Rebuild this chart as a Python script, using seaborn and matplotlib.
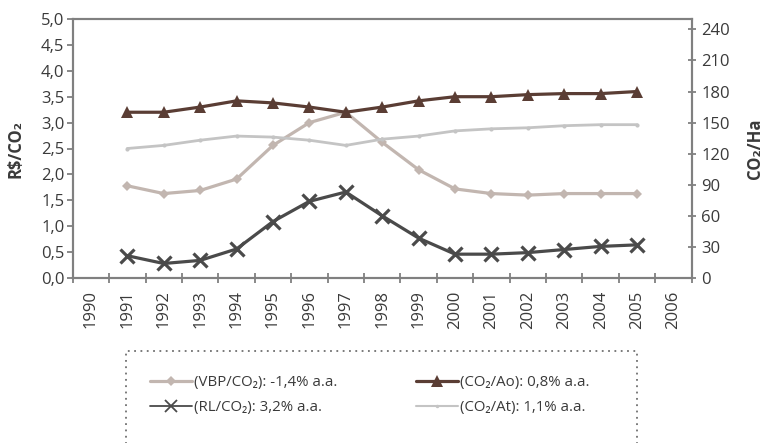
import numpy as np
import pandas as pd
import matplotlib
matplotlib.use("Agg")
from matplotlib import pyplot as plt
from matplotlib.patches import Rectangle
from matplotlib.lines import Line2D
from matplotlib.ticker import FixedLocator, FuncFormatter
import seaborn as sns

years = list(range(1991, 2006))
all_years = list(range(1990, 2007))

# left axis, R$/CO2
vbp_co2 = [1.78, 1.63, 1.69, 1.91, 2.56, 3.00, 3.20, 2.62, 2.09, 1.72, 1.63, 1.60, 1.63, 1.63, 1.63]
rl_co2 = [0.43, 0.28, 0.34, 0.56, 1.09, 1.48, 1.66, 1.20, 0.77, 0.46, 0.46, 0.49, 0.55, 0.61, 0.64]

# right axis, CO2/Ha
co2_ao = [160, 160, 165, 171, 169, 165, 160, 165, 171, 175, 175, 177, 178, 178, 180]
co2_at = [125, 128, 133, 137, 136, 133, 128, 134, 137, 142, 144, 145, 147, 148, 148]

labels = ["(VBP/CO₂): -1,4% a.a.", "(RL/CO₂): 3,2% a.a.",
          "(CO₂/Ao): 0,8% a.a.", "(CO₂/At): 1,1% a.a."]

sns.set_style("white")
plt.rcParams['font.family'] = ['Open Sans', 'DejaVu Sans']
plt.rcParams['font.size'] = 12

c_vbp = "#c2b6b0"
c_rl = "#4a4a4a"
c_ao = "#5a3d34"
c_at = "#c4c4c4"
c_axis = "#808080"
c_text = "#3a3a3a"

df = pd.DataFrame({"ano": years, "vbp": vbp_co2, "rl": rl_co2,
                   "ao": co2_ao, "at": co2_at})

fig = plt.figure(figsize=(7.63, 4.43), dpi=100)
ax = fig.add_axes([72.7 / 763, 1 - 278 / 443, (691.7 - 72.7) / 763, (278 - 19) / 443])
ax2 = ax.twinx()

sns.lineplot(data=df, x="ano", y="vbp", ax=ax, color=c_vbp, lw=2.3,
             marker="D", markersize=5, markeredgewidth=0)
sns.lineplot(data=df, x="ano", y="rl", ax=ax, color=c_rl, lw=2.3,
             marker="x", markersize=10, markeredgewidth=2.3, markeredgecolor=c_rl)
sns.lineplot(data=df, x="ano", y="ao", ax=ax2, color=c_ao, lw=2.3,
             marker="^", markersize=8, markeredgewidth=0)
sns.lineplot(data=df, x="ano", y="at", ax=ax2, color=c_at, lw=2.0,
             marker="o", markersize=3, markeredgewidth=0)

ax.set_xlim(1989.5, 2006.5)
ax.set_ylim(0, 5)
ax2.set_ylim(0, 250)

ax.xaxis.set_major_locator(FixedLocator(all_years))
ax.set_xticklabels([str(y) for y in all_years], rotation=90)
ax.xaxis.set_minor_locator(FixedLocator(np.arange(1989.5, 2007, 1.0)))
ax.tick_params(axis="x", which="major", length=0, pad=9, labelcolor=c_text)
ax.tick_params(axis="x", which="minor", bottom=True, direction="inout",
               length=7.5, width=1.3, color=c_axis)

ax.set_yticks(np.arange(0, 5.01, 0.5))
ax.yaxis.set_major_formatter(FuncFormatter(lambda v, p: f"{v:.1f}".replace(".", ",")))
ax.tick_params(axis="y", left=True, direction="out", length=4, width=1.3,
               color=c_axis, labelcolor=c_text, pad=2)

ax2.set_yticks(range(0, 241, 30))
ax2.tick_params(axis="y", right=True, direction="inout", length=6, width=1.3,
                color=c_axis, labelcolor=c_text, pad=4)

for a in (ax, ax2):
    for s in a.spines.values():
        s.set_color(c_axis)
        s.set_linewidth(1.5)

ax.set_xlabel("")
ax.set_ylabel("R$/CO₂", fontweight="bold", fontsize=12, color=c_text)
ax2.set_ylabel("CO₂/Ha", fontweight="bold", fontsize=12, color=c_text, rotation=90)
ax.yaxis.set_label_coords((24 - 72.7) / 619, 0.5)
ax2.yaxis.set_label_coords((746 - 72.7) / 619, 0.5)

# legend box (dotted, cut by the figure bottom)
fig.patches.append(Rectangle((126 / 763, -0.05), (637 - 126) / 763, 0.05 + 1 - 351 / 443,
                             transform=fig.transFigure, fill=False, ls=(0, (1, 2.5)),
                             lw=1.3, ec="#707070"))

h_vbp = Line2D([], [], color=c_vbp, lw=2.3, marker="D", markersize=5, markeredgewidth=0)
h_rl = Line2D([], [], color=c_rl, lw=1.3, marker="x", markersize=9, markeredgewidth=1.3)
h_ao = Line2D([], [], color=c_ao, lw=2.3, marker="^", markersize=8, markeredgewidth=0)
h_at = Line2D([], [], color=c_at, lw=1.5, marker="o", markersize=2.5, markeredgewidth=0)

leg_kw = dict(loc="upper left", frameon=False, handlelength=2.8, handletextpad=0.15,
              labelspacing=0.65, fontsize=10.8, labelcolor=c_text, borderaxespad=0,
              borderpad=0)
fig.legend([h_vbp, h_rl], labels[:2], bbox_to_anchor=(150 / 763, 1 - 375 / 443), **leg_kw)
fig.legend([h_ao, h_at], labels[2:], bbox_to_anchor=(416 / 763, 1 - 375 / 443), **leg_kw)

fig.savefig("out.png", dpi=100)
